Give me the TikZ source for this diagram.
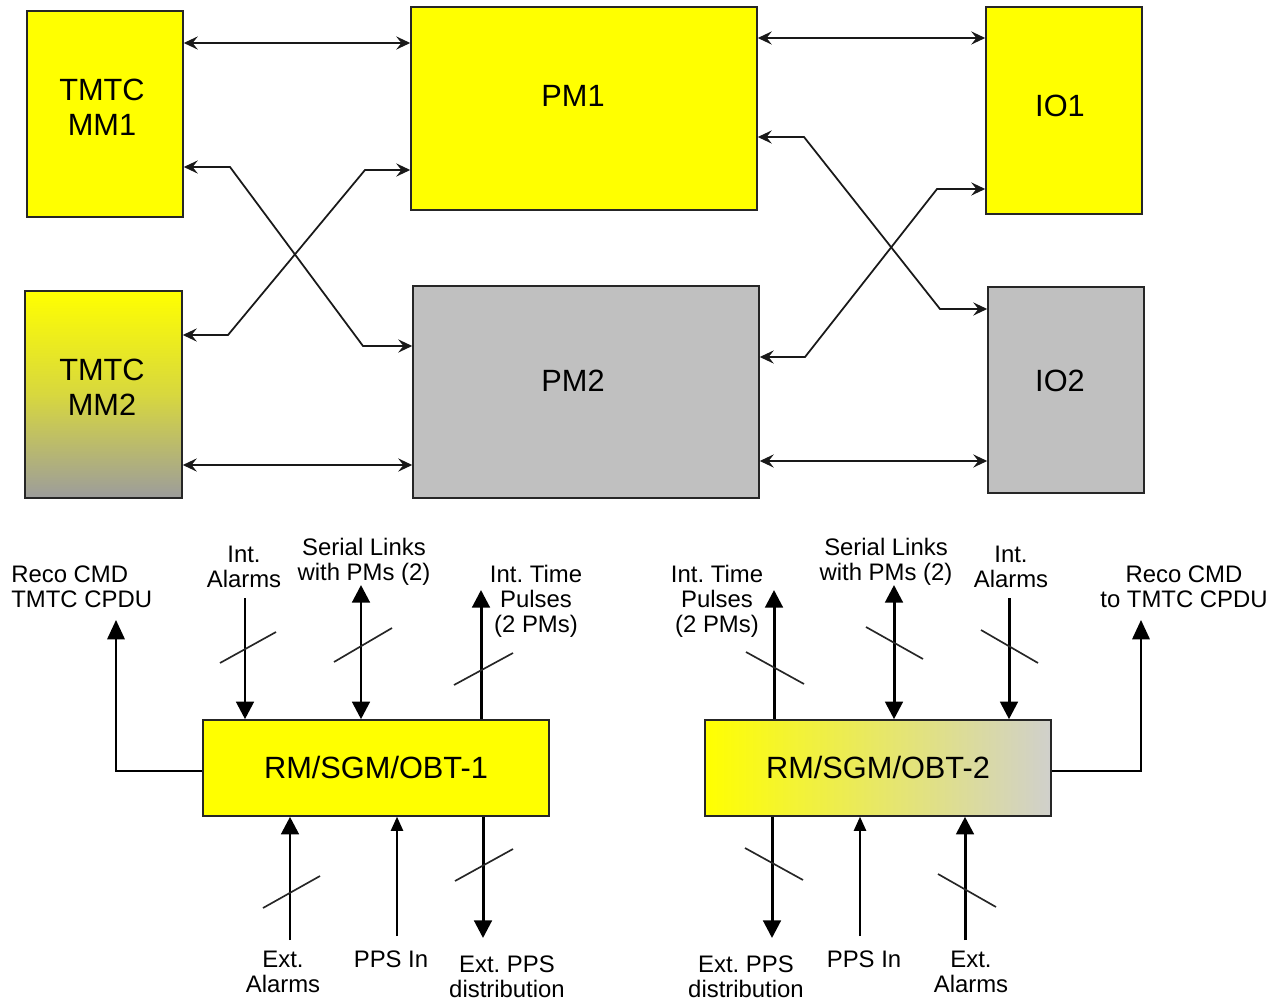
\documentclass[tikz,border=0pt]{standalone}
\usepackage{fontspec}
\setmainfont{Liberation Sans}
\usetikzlibrary{arrows.meta}
\definecolor{yel}{RGB}{255,255,0}
\definecolor{boxgray}{HTML}{C0C0C0}
\definecolor{mmgray}{HTML}{9C9C9C}
\definecolor{rmgray}{HTML}{D0D0CC}
\frenchspacing
\begin{document}
\begin{tikzpicture}[x=0.02cm,y=-0.02cm,
  box/.style={draw=black!85, line width=0.9pt, fill=yel, inner sep=0pt,
    font=\fontsize{17.5}{19.8}\selectfont, align=center},
  graybox/.style={box, fill=boxgray},
  big/.style={font=\fontsize{17.5}{19.8}\selectfont, align=center},
  link/.style={line width=1pt, black!90,
    {Stealth[length=8pt,width=7.5pt,inset=3pt]}-{Stealth[length=8pt,width=7.5pt,inset=3pt]}},
  lbl/.style={font=\fontsize{13.6}{14.2}\selectfont, align=center, inner sep=0pt},
  thk/.style={line width=1.7pt},
  thn/.style={line width=0.85pt},
  tipbig/.style={-{Triangle[length=11pt,width=10pt]}},
  tipthk/.style={-{Triangle[length=10pt,width=10pt]}},
  tipsmall/.style={-{Triangle[length=8pt,width=7pt]}},
  bitip/.style={{Triangle[length=10pt,width=10pt]}-{Triangle[length=10pt,width=10pt]}},
  slash/.style={line width=0.95pt, black!85}
]
\useasboundingbox (0,0) rectangle (1274,1003);

% ---- top boxes ----
\node[box, minimum width=3.12cm, minimum height=4.12cm,
      label={[big, shift={(-0.06cm,0.14cm)}]center:TMTC\\MM1}] (mm1) at (105,114) {};
\node[box, minimum width=6.92cm, minimum height=4.06cm,
      label={[big, shift={(-0.22cm,0.25cm)}]center:PM1}] (pm1) at (584,108.5) {};
\node[box, minimum width=3.12cm, minimum height=4.14cm,
      label={[big, shift={(-0.08cm,0.09cm)}]center:IO1}] (io1) at (1064,110.5) {};
\node[box, top color=yel, bottom color=mmgray, middle color=yel!60!mmgray,
      minimum width=3.14cm, minimum height=4.14cm,
      label={[big, shift={(-0.03cm,0.14cm)}]center:TMTC\\MM2}] (mm2) at (103.5,394.5) {};
\node[graybox, minimum width=6.92cm, minimum height=4.24cm,
      label={[big, shift={(-0.26cm,0.22cm)}]center:PM2}] (pm2) at (586,392) {};
\node[graybox, minimum width=3.12cm, minimum height=4.12cm,
      label={[big, shift={(-0.12cm,0.18cm)}]center:IO2}] (io2) at (1066,390) {};

% ---- top connectors ----
\draw[link] (mm1.east |- 0,43) -- (pm1.west |- 0,43);
\draw[link] (mm1.east |- 0,167) -- (230,167) -- (363,346) -- (pm2.west |- 0,346);
\draw[link] (mm2.east |- 0,335) -- (228,335) -- (365,170) -- (pm1.west |- 0,170);
\draw[link] (mm2.east |- 0,465) -- (pm2.west |- 0,465);
\draw[link] (pm1.east |- 0,38) -- (io1.west |- 0,38);
\draw[link] (pm1.east |- 0,137) -- (804,137) -- (940,309) -- (io2.west |- 0,309);
\draw[link] (pm2.east |- 0,357) -- (805,357) -- (937,189) -- (io1.west |- 0,189);
\draw[link] (pm2.east |- 0,461) -- (io2.west |- 0,461);

% ---- bottom boxes ----
\node[box, minimum width=6.92cm, minimum height=1.92cm] (rm1) at (376,768) {RM/SGM/OBT-1};
\node[box, left color=yel, right color=rmgray, minimum width=6.92cm, minimum height=1.92cm] (rm2) at (878,768) {RM/SGM/OBT-2};

% ---- labels, left ----
\node[lbl, align=left, anchor=west] (l1reco) at (11,587) {Reco CMD\\TMTC CPDU};
\node[lbl] (l1ia) at (244,567) {Int.\\Alarms};
\node[lbl] (l1sl) at (364,562) {Serial Links\\with PMs (2)};
\node[lbl] (l1tp) at (536,601) {Int. Time\\Pulses\\(2 PMs)};
\node[lbl] (l1ea) at (283,972) {Ext.\\Alarms};
\node[lbl] (l1pps) at (391,959) {PPS In};
\node[lbl] (l1epps) at (507,977) {Ext. PPS\\distribution};

% ---- labels, right ----
\node[lbl] (l2tp) at (717,601) {Int. Time\\Pulses\\(2 PMs)};
\node[lbl] (l2sl) at (886,562) {Serial Links\\with PMs (2)};
\node[lbl] (l2ia) at (1011,567) {Int.\\Alarms};
\node[lbl] (l2reco) at (1184,587) {Reco CMD\\to TMTC CPDU};
\node[lbl] (l2epps) at (746,977) {Ext. PPS\\distribution};
\node[lbl] (l2pps) at (864,959) {PPS In};
\node[lbl] (l2ea) at (971,972) {Ext.\\Alarms};

% ---- connectors, left box ----
\draw[thn, tipbig] (rm1.west |- 0,771) -- (116,771) -- (116,620);
\draw[thk, tipthk] (245,598) -- (rm1.north -| 245,0);
\draw[thk, bitip] (361,585) -- (rm1.north -| 361,0);
\draw[thk, tipthk] (rm1.north -| 481,0) -- (481,590);
\draw[thk, tipthk] (290,940) -- (rm1.south -| 290,0);
\draw[thn, tipsmall] (397,936) -- (rm1.south -| 397,0);
\draw[thk, tipthk] (rm1.south -| 483,0) -- (483,938);
\draw[slash] (220,663) -- (276,632);
\draw[slash] (334,662) -- (392,628);
\draw[slash] (454,685) -- (513,653);
\draw[slash] (263,908) -- (320,876);
\draw[slash] (455,881) -- (513,849);

% ---- connectors, right box ----
\draw[thn, tipbig] (rm2.east |- 0,771) -- (1141,771) -- (1141,620);
\draw[thk, tipthk] (rm2.north -| 774,0) -- (774,590);
\draw[thk, bitip] (894,585) -- (rm2.north -| 894,0);
\draw[thk, tipthk] (1009,598) -- (rm2.north -| 1009,0);
\draw[thk, tipthk] (rm2.south -| 772,0) -- (772,938);
\draw[thn, tipsmall] (860,936) -- (rm2.south -| 860,0);
\draw[thk, tipthk] (965,940) -- (rm2.south -| 965,0);
\draw[slash] (746,652) -- (804,684);
\draw[slash] (866,627) -- (923,659);
\draw[slash] (981,630) -- (1038,663);
\draw[slash] (745,848) -- (803,880);
\draw[slash] (938,874) -- (996,907);
\end{tikzpicture}
\end{document}
